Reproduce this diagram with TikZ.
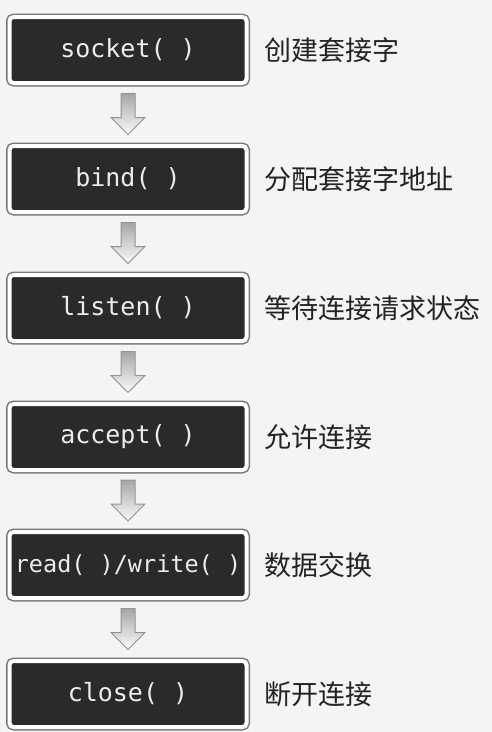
\documentclass[tikz,border=0pt]{standalone}
\usepackage{fontspec}
\newfontfamily\cjk{Noto Sans CJK SC}
\newfontfamily\monof{DejaVu Sans Mono}
\usetikzlibrary{calc}
\definecolor{bgcol}{RGB}{244,244,243}
\definecolor{boxdark}{RGB}{42,42,42}
\definecolor{boxtext}{RGB}{236,236,236}
\definecolor{framegray}{RGB}{120,120,120}
\definecolor{labeltext}{RGB}{35,35,35}
\tikzset{
  stepbox/.style={rectangle, rounded corners=4pt, minimum width=237pt, minimum height=66pt,
    inner sep=0pt, outer sep=3.5pt, fill=boxdark, draw=white, line width=4pt,
    preaction={draw=framegray, line width=7pt},
    text=boxtext, font=\monof\fontsize{25}{29}\selectfont},
  widetext/.style={font=\monof\fontsize{23.5}{28}\selectfont},
  steplabel/.style={anchor=west, inner sep=0pt, text=labeltext, font=\cjk\fontsize{27}{32}\selectfont},
  downarrow/.style={draw=gray!85, line width=1pt, line join=miter, top color=gray!70, bottom color=gray!3}
}
\begin{document}
\begin{tikzpicture}[x=1pt,y=-1pt]
\fill[bgcol] (0,0) rectangle (492,732);
\useasboundingbox (0,0) rectangle (492,732);
\node[stepbox] (b1) at (128,50) {socket( )};
\node[stepbox] (b2) at (128,179) {bind( )};
\node[stepbox] (b3) at (128,308) {listen( )};
\node[stepbox] (b4) at (128,437) {accept( )};
\node[stepbox, widetext] (b5) at (128,565) {read( )/write( )};
\node[stepbox] (b6) at (128,694) {close( )};
\node[steplabel] (l1) at ($(b1.east)+(14,0)$) {创建套接字};
\node[steplabel] (l2) at ($(b2.east)+(14,0)$) {分配套接字地址};
\node[steplabel] (l3) at ($(b3.east)+(14,0)$) {等待连接请求状态};
\node[steplabel] (l4) at ($(b4.east)+(14,0)$) {允许连接};
\node[steplabel] (l5) at ($(b5.east)+(14,0)$) {数据交换};
\node[steplabel] (l6) at ($(b6.east)+(14,0)$) {断开连接};
\foreach \a/\b in {b1/b2,b2/b3,b3/b4,b4/b5,b5/b6}{
  \coordinate (m\a) at ($(\a.south)!0.5!(\b.north)$);
  \draw[downarrow] ($(m\a)+(-7,-21)$) -- ($(m\a)+(7,-21)$) -- ($(m\a)+(7,3)$) -- ($(m\a)+(17,3)$)
    -- ($(m\a)+(0,20)$) -- ($(m\a)+(-17,3)$) -- ($(m\a)+(-7,3)$) -- cycle;
}
\end{tikzpicture}
\end{document}
